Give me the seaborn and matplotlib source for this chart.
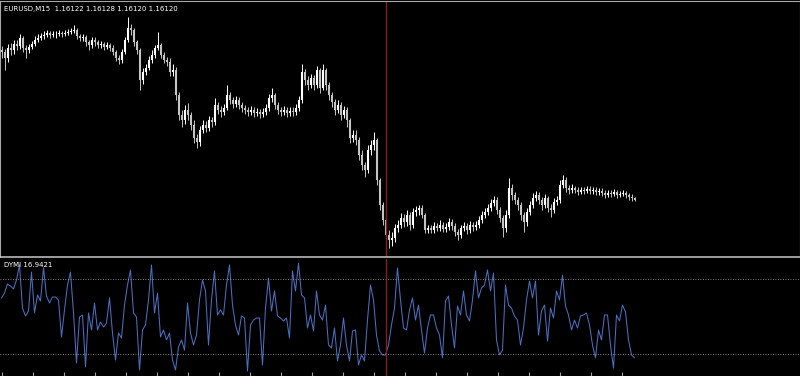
import numpy as np
import pandas as pd
import matplotlib
matplotlib.use("Agg")
import matplotlib.pyplot as plt
import seaborn as sns

symbol_label = "EURUSD,M15  1.16122 1.16128 1.16120 1.16120"
indicator_label = "DYMI 16.9421"

first_open = 1.1762
closes = [
    1.1760, 1.1754, 1.1764, 1.1762, 1.1768, 1.1766, 1.1774, 1.1764, 1.1762, 1.1765,
    1.1768, 1.1772, 1.1774, 1.1776, 1.1777, 1.1779, 1.1777, 1.1778, 1.1778, 1.1779,
    1.1778, 1.1779, 1.1780, 1.1781, 1.1782, 1.1776, 1.1774, 1.1775, 1.1770, 1.1767,
    1.1772, 1.1770, 1.1767, 1.1768, 1.1765, 1.1767, 1.1764, 1.1760, 1.1754, 1.1752,
    1.1760, 1.1772, 1.1784, 1.1782, 1.1770, 1.1762, 1.1732, 1.1740, 1.1744, 1.1752,
    1.1757, 1.1764, 1.1767, 1.1757, 1.1752, 1.1750, 1.1740, 1.1742, 1.1717, 1.1697,
    1.1692, 1.1702, 1.1697, 1.1687, 1.1674, 1.1670, 1.1682, 1.1687, 1.1684, 1.1692,
    1.1690, 1.1707, 1.1702, 1.1700, 1.1704, 1.1717, 1.1712, 1.1708, 1.1712, 1.1707,
    1.1704, 1.1702, 1.1700, 1.1702, 1.1699, 1.1700, 1.1698, 1.1700, 1.1704, 1.1714,
    1.1717, 1.1707, 1.1702, 1.1700, 1.1702, 1.1699, 1.1701, 1.1700, 1.1704, 1.1712,
    1.1740, 1.1732, 1.1727, 1.1734, 1.1727, 1.1742, 1.1724, 1.1742, 1.1727, 1.1717,
    1.1710, 1.1702, 1.1707, 1.1697, 1.1702, 1.1692, 1.1674, 1.1677, 1.1672, 1.1657,
    1.1647, 1.1642, 1.1662, 1.1667, 1.1672, 1.1632, 1.1607, 1.1592, 1.1577, 1.1572,
    1.1574, 1.1584, 1.1587, 1.1594, 1.1590, 1.1597, 1.1587, 1.1600, 1.1602, 1.1604,
    1.1597, 1.1582, 1.1584, 1.1582, 1.1586, 1.1584, 1.1587, 1.1583, 1.1585, 1.1590,
    1.1586, 1.1580, 1.1577, 1.1584, 1.1586, 1.1582, 1.1587, 1.1585, 1.1587, 1.1592,
    1.1597, 1.1600, 1.1604, 1.1609, 1.1612, 1.1602, 1.1594, 1.1584, 1.1597, 1.1624,
    1.1617, 1.1612, 1.1607, 1.1597, 1.1590, 1.1600, 1.1607, 1.1614, 1.1617, 1.1612,
    1.1607, 1.1614, 1.1604, 1.1602, 1.1610, 1.1612, 1.1627, 1.1632, 1.1624, 1.1622,
    1.1624, 1.1622, 1.1620, 1.1622, 1.1621, 1.1623, 1.1621, 1.1622, 1.1620, 1.1621,
    1.1619, 1.1617, 1.1619, 1.1618, 1.1620, 1.1617, 1.1618, 1.1619, 1.1617, 1.1615,
    1.1614, 1.1612,
]
highs = [
    1.1766, 1.1763, 1.1768, 1.1769, 1.1772, 1.1772, 1.1778, 1.1776, 1.1767, 1.1768,
    1.1771, 1.1776, 1.1778, 1.1779, 1.1781, 1.1782, 1.1781, 1.1781, 1.1781, 1.1782,
    1.1781, 1.1782, 1.1783, 1.1784, 1.1787, 1.1784, 1.1778, 1.1778, 1.1777, 1.1772,
    1.1775, 1.1775, 1.1772, 1.1771, 1.1770, 1.1770, 1.1769, 1.1767, 1.1762, 1.1757,
    1.1763, 1.1775, 1.1795, 1.1788, 1.1784, 1.1772, 1.1764, 1.1744, 1.1748, 1.1756,
    1.1762, 1.1767, 1.1780, 1.1769, 1.1760, 1.1755, 1.1754, 1.1748, 1.1745, 1.1720,
    1.1702, 1.1707, 1.1709, 1.1700, 1.1692, 1.1678, 1.1686, 1.1692, 1.1691, 1.1696,
    1.1695, 1.1714, 1.1710, 1.1706, 1.1708, 1.1727, 1.1720, 1.1715, 1.1716, 1.1715,
    1.1710, 1.1707, 1.1705, 1.1706, 1.1705, 1.1704, 1.1703, 1.1704, 1.1708, 1.1718,
    1.1724, 1.1719, 1.1710, 1.1705, 1.1706, 1.1705, 1.1705, 1.1705, 1.1708, 1.1716,
    1.1748, 1.1743, 1.1736, 1.1738, 1.1737, 1.1746, 1.1744, 1.1748, 1.1744, 1.1730,
    1.1720, 1.1713, 1.1712, 1.1710, 1.1706, 1.1705, 1.1694, 1.1682, 1.1682, 1.1675,
    1.1662, 1.1650, 1.1667, 1.1672, 1.1680, 1.1674, 1.1634, 1.1610, 1.1594, 1.1582,
    1.1580, 1.1588, 1.1592, 1.1599, 1.1598, 1.1602, 1.1600, 1.1604, 1.1606, 1.1607,
    1.1607, 1.1599, 1.1587, 1.1587, 1.1590, 1.1589, 1.1592, 1.1590, 1.1589, 1.1594,
    1.1593, 1.1589, 1.1583, 1.1587, 1.1590, 1.1589, 1.1591, 1.1590, 1.1591, 1.1596,
    1.1601, 1.1604, 1.1608, 1.1613, 1.1616, 1.1615, 1.1605, 1.1597, 1.1602, 1.1634,
    1.1628, 1.1620, 1.1615, 1.1610, 1.1600, 1.1604, 1.1611, 1.1619, 1.1621, 1.1620,
    1.1615, 1.1618, 1.1616, 1.1608, 1.1614, 1.1616, 1.1632, 1.1637, 1.1635, 1.1627,
    1.1628, 1.1626, 1.1625, 1.1625, 1.1625, 1.1626, 1.1626, 1.1625, 1.1625, 1.1624,
    1.1624, 1.1622, 1.1622, 1.1622, 1.1623, 1.1622, 1.1621, 1.1622, 1.1621, 1.1619,
    1.1618, 1.1615,
]
lows = [
    1.1754, 1.1742, 1.1750, 1.1757, 1.1758, 1.1762, 1.1763, 1.1760, 1.1754, 1.1759,
    1.1763, 1.1766, 1.1770, 1.1772, 1.1773, 1.1775, 1.1774, 1.1775, 1.1774, 1.1776,
    1.1775, 1.1776, 1.1777, 1.1778, 1.1779, 1.1773, 1.1771, 1.1771, 1.1766, 1.1762,
    1.1764, 1.1766, 1.1764, 1.1764, 1.1762, 1.1763, 1.1761, 1.1757, 1.1751, 1.1748,
    1.1749, 1.1758, 1.1770, 1.1777, 1.1766, 1.1758, 1.1722, 1.1728, 1.1737, 1.1742,
    1.1749, 1.1754, 1.1762, 1.1754, 1.1749, 1.1746, 1.1736, 1.1736, 1.1712, 1.1692,
    1.1685, 1.1688, 1.1692, 1.1682, 1.1669, 1.1664, 1.1666, 1.1679, 1.1680, 1.1681,
    1.1685, 1.1687, 1.1698, 1.1695, 1.1697, 1.1702, 1.1708, 1.1704, 1.1705, 1.1703,
    1.1700, 1.1698, 1.1696, 1.1697, 1.1695, 1.1696, 1.1694, 1.1695, 1.1697, 1.1701,
    1.1710, 1.1703, 1.1698, 1.1696, 1.1697, 1.1695, 1.1696, 1.1696, 1.1697, 1.1701,
    1.1709, 1.1727, 1.1722, 1.1724, 1.1722, 1.1724, 1.1719, 1.1722, 1.1722, 1.1712,
    1.1705, 1.1697, 1.1699, 1.1692, 1.1694, 1.1685, 1.1669, 1.1670, 1.1667, 1.1652,
    1.1642, 1.1635, 1.1639, 1.1657, 1.1662, 1.1627, 1.1602, 1.1587, 1.1570, 1.1564,
    1.1566, 1.1570, 1.1580, 1.1584, 1.1585, 1.1586, 1.1582, 1.1584, 1.1596, 1.1597,
    1.1594, 1.1579, 1.1579, 1.1579, 1.1579, 1.1581, 1.1581, 1.1580, 1.1580, 1.1582,
    1.1582, 1.1576, 1.1572, 1.1574, 1.1581, 1.1578, 1.1579, 1.1581, 1.1582, 1.1584,
    1.1589, 1.1594, 1.1597, 1.1601, 1.1606, 1.1598, 1.1590, 1.1575, 1.1580, 1.1594,
    1.1612, 1.1608, 1.1602, 1.1592, 1.1580, 1.1586, 1.1597, 1.1604, 1.1611, 1.1608,
    1.1602, 1.1604, 1.1600, 1.1595, 1.1599, 1.1607, 1.1609, 1.1624, 1.1620, 1.1618,
    1.1619, 1.1619, 1.1617, 1.1618, 1.1618, 1.1619, 1.1618, 1.1618, 1.1617, 1.1617,
    1.1616, 1.1614, 1.1615, 1.1615, 1.1616, 1.1614, 1.1615, 1.1616, 1.1614, 1.1612,
    1.1611, 1.1611,
]
dymi = [
    59.9, 62.5, 67.3, 66.3, 64.7, 69.5, 77.5, 54.5, 50.3, 52.9,
    73.7, 51.9, 61.5, 58.3, 75.9, 60.9, 57.2, 60.4, 60.4, 58.8,
    39.1, 53.5, 66.8, 73.7, 51.9, 25.2, 49.7, 50.8, 23.1, 51.9,
    42.8, 57.2, 42.8, 47.1, 44.4, 46.5, 59.9, 41.2, 26.8, 41.2,
    38.5, 56.1, 66.8, 74.8, 51.9, 49.7, 21.5, 42.8, 45.5, 58.8,
    77.5, 51.9, 62.5, 39.1, 42.8, 37.5, 41.2, 26.8, 21.5, 33.7,
    37.5, 32.1, 57.2, 41.2, 34.8, 40.1, 58.8, 69.5, 63.6, 34.8,
    58.8, 74.3, 50.8, 53.5, 50.8, 66.8, 77.5, 56.1, 45.5, 40.1,
    50.3, 49.2, 20.9, 45.5, 48.1, 49.2, 49.2, 24.1, 54.5, 70.5,
    52.9, 63.6, 50.3, 49.2, 47.6, 49.2, 38.5, 74.3, 63.6, 78.5,
    61.5, 59.9, 43.9, 50.8, 42.3, 63.6, 50.8, 48.1, 56.1, 34.8,
    33.2, 43.9, 26.3, 34.8, 49.2, 34.8, 26.3, 42.3, 42.8, 24.1,
    29.5, 26.3, 48.1, 66.8, 58.8, 40.1, 31.6, 29.5, 29.5, 34.8,
    45.5, 54.5, 75.9, 58.8, 43.9, 42.8, 53.5, 59.9, 48.1, 56.1,
    42.8, 30.5, 43.9, 50.8, 50.8, 43.9, 40.1, 27.9, 58.3, 60.9,
    45.5, 33.2, 55.6, 50.8, 63.6, 50.8, 47.6, 58.8, 74.3, 59.9,
    65.2, 66.8, 74.8, 63.6, 73.2, 37.5, 29.5, 32.1, 66.8, 56.1,
    54.5, 50.3, 48.1, 34.8, 43.9, 58.8, 68.9, 59.9, 68.9, 40.1,
    52.9, 56.1, 36.9, 54.5, 49.2, 63.6, 58.8, 72.1, 55.6, 50.8,
    42.8, 48.1, 43.9, 50.3, 50.8, 51.9, 45.5, 34.8, 27.9, 42.8,
    37.5, 50.8, 50.8, 34.8, 22.5, 50.8, 47.6, 56.1, 52.4, 37.5,
    29.5, 27.9,
]
levels = [70, 30]
cursor_bar = 128

sns.set_theme(style="dark", rc={"axes.facecolor": "black", "figure.facecolor": "black",
                                "savefig.facecolor": "black"})
plt.rcParams["font.family"] = ["DejaVu Sans"]

W, H = 800, 376
fig = plt.figure(figsize=(W / 100, H / 100), dpi=100)
ax1 = fig.add_axes([0, (H - 257) / H, 1, (257 - 1) / H])
ax2 = fig.add_axes([0, 0, 1, (H - 259) / H])

bars = np.arange(len(closes))
opens = [first_open] + closes[:-1]
df = pd.DataFrame({"bar": bars, "open": opens, "high": highs, "low": lows,
                   "close": closes, "dymi": dymi})
df["top"] = df[["open", "close"]].max(axis=1)
df["bot"] = df[["open", "close"]].min(axis=1)
bull = df["close"] >= df["open"]

for mask, col in [(bull, "#ffffff"), (~bull, "#c4c4c4")]:
    d = df[mask]
    ax1.vlines(d["bar"], d["low"], d["high"], color=col, lw=0.7)
    ax1.vlines(d["bar"], d["bot"], d["top"], color=col, lw=1.5)

x_max = (W - 1.5) / 3
ax1.set_xlim(-0.5, x_max)
ax1.set_ylim(1.1555, 1.1811)
ax1.axvline(cursor_bar, color="#8a1c1c", lw=1.0)
ax1.set_xticks([])
ax1.set_yticks([])
for s in ax1.spines.values():
    s.set_visible(True)
    s.set_color("#a8a8a8")
    s.set_linewidth(0.8)
ax1.spines["bottom"].set_color("#c8c8c8")
ax1.spines["bottom"].set_linewidth(1.1)

sns.lineplot(data=df, x="bar", y="dymi", ax=ax2, color="#4a6fc0", lw=0.75)
for lv in levels:
    ax2.axhline(lv, color="#a8a8a8", lw=0.6, ls=(0, (1, 2)))
ax2.axvline(cursor_bar, color="#8a1c1c", lw=1.0)
ax2.set_xlim(-0.5, x_max)
ax2.set_ylim(18.27, 80.67)
ax2.set_xlabel("")
ax2.set_ylabel("")
ax2.set_yticks([])
ax2.set_xticks(np.arange(21) * 31 / 3)
ax2.tick_params(axis="x", direction="in", length=3, color="#a0a0a0", width=0.8,
                labelbottom=False, bottom=True)
for name, s in ax2.spines.items():
    s.set_visible(False)

fig.text(4 / W, 1 - 9 / H, symbol_label, color="white", fontsize=5, va="center", ha="left")
fig.text(4 / W, (H - 265) / H, indicator_label, color="white", fontsize=5, va="center", ha="left")

fig.savefig("out.png", dpi=100, facecolor="black")
